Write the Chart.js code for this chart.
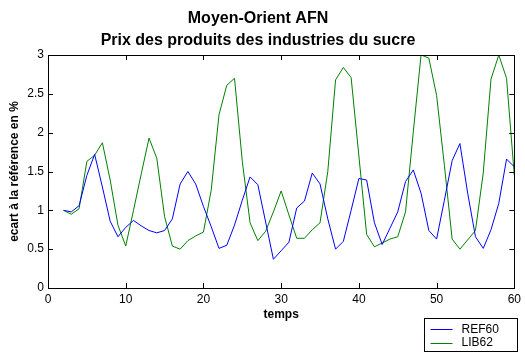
<!DOCTYPE html>
<html><head><meta charset="utf-8">
<script src="https://cdn.jsdelivr.net/npm/chart.js@4/dist/chart.umd.min.js"></script>
<style>html,body{margin:0;padding:0;background:#fff}#wrap{width:525px;height:354px}</style>
</head><body><div id="wrap"><canvas id="c" width="525" height="354"></canvas></div>
<script>
const temps = [2,3,4,5,6,7,8,9,10,11,12,13,14,15,16,17,18,19,20,21,22,23,24,25,26,27,28,29,30,31,32,33,34,35,36,37,38,39,40,41,42,43,44,45,46,47,48,49,50,51,52,53,54,55,56,57,58,59,60];
const ref60 = [1.00,0.98,1.06,1.45,1.72,1.30,0.86,0.66,0.78,0.87,0.80,0.74,0.71,0.74,0.89,1.34,1.50,1.34,1.05,0.79,0.51,0.55,0.81,1.13,1.43,1.33,0.85,0.37,0.48,0.59,1.03,1.12,1.48,1.34,0.89,0.50,0.60,1.00,1.41,1.39,0.84,0.56,0.77,0.98,1.37,1.52,1.22,0.74,0.63,1.13,1.64,1.86,1.22,0.66,0.51,0.75,1.09,1.66,1.56];
const lib62 = [1.00,0.95,1.02,1.63,1.71,1.87,1.39,0.81,0.54,1.00,1.47,1.93,1.67,0.92,0.54,0.50,0.61,0.67,0.72,1.26,2.23,2.61,2.70,1.63,0.84,0.61,0.73,0.98,1.25,0.94,0.64,0.64,0.75,0.84,1.50,2.68,2.84,2.71,1.70,0.69,0.53,0.58,0.63,0.66,0.98,2.01,3.00,2.96,2.48,1.58,0.63,0.50,0.62,0.74,1.48,2.69,3.00,2.70,1.45];
const seriesLabels = ['REF60','LIB62'];
const seriesColors = ['#0000ff','#008000'];
const xTicks = [0,10,20,30,40,50,60];
const yTicks = [0,0.5,1,1.5,2,2.5,3];
const titleLines = ['Moyen-Orient AFN','Prix des produits des industries du sucre'];
const xTitle = 'temps';
const yTitle = 'ecart à la référence en %';

const FAM = '"Liberation Sans", Arial, Helvetica, sans-serif';

const framePlugin = {
  id: 'frame',
  afterDatasetsDraw(chart) {
    const {ctx, chartArea: a, scales: {x, y}} = chart;
    ctx.save();
    ctx.strokeStyle = '#000';
    ctx.lineWidth = 1;
    ctx.strokeRect(Math.round(a.left) + 0.5, Math.round(a.top) + 0.5, Math.round(a.right - a.left), Math.round(a.bottom - a.top));
    const tl = 5;
    ctx.beginPath();
    xTicks.forEach(v => {
      const px = Math.round(x.getPixelForValue(v)) + 0.5;
      ctx.moveTo(px, a.bottom); ctx.lineTo(px, a.bottom - tl);
      ctx.moveTo(px, a.top); ctx.lineTo(px, a.top + tl);
    });
    yTicks.forEach(v => {
      const py = Math.round(y.getPixelForValue(v)) + 0.5;
      ctx.moveTo(a.left, py); ctx.lineTo(a.left + tl, py);
      ctx.moveTo(a.right, py); ctx.lineTo(a.right - tl, py);
    });
    ctx.stroke();
    ctx.restore();
  },
  afterDraw(chart) {
    const ctx = chart.ctx;
    ctx.save();
    const bx = 424.5, by = 318.5, bw = 93, bh = 33;
    ctx.fillStyle = '#fff';
    ctx.fillRect(bx, by, bw, bh);
    ctx.strokeStyle = '#000';
    ctx.lineWidth = 1;
    ctx.strokeRect(bx, by, bw, bh);
    ctx.font = '12px ' + FAM;
    ctx.textBaseline = 'middle';
    ctx.textAlign = 'left';
    chart.data.datasets.forEach((ds, i) => {
      const cy = by + 10.5 + i * 13.5;
      ctx.strokeStyle = ds.borderColor;
      ctx.beginPath();
      ctx.moveTo(bx + 6, Math.round(cy) + 0.5);
      ctx.lineTo(bx + 28, Math.round(cy) + 0.5);
      ctx.stroke();
      ctx.fillStyle = '#000';
      ctx.fillText(ds.label, bx + 37, cy + 0.5);
    });
    ctx.restore();
  }
};

new Chart(document.getElementById('c'), {
  type: 'line',
  data: {
    datasets: [
      { label: seriesLabels[0], data: temps.map((t, i) => ({x: t, y: ref60[i]})), borderColor: seriesColors[0], borderWidth: 1, pointRadius: 0, tension: 0, fill: false },
      { label: seriesLabels[1], data: temps.map((t, i) => ({x: t, y: lib62[i]})), borderColor: seriesColors[1], borderWidth: 1, pointRadius: 0, tension: 0, fill: false }
    ]
  },
  options: {
    responsive: false,
    animation: false,
    devicePixelRatio: 1,
    layout: { padding: { left: 0, right: 9, top: 0, bottom: 26 } },
    plugins: {
      legend: { display: false },
      tooltip: { enabled: false },
      title: {
        display: true, text: titleLines, color: '#000',
        font: { family: FAM, size: 16, weight: 'bold', lineHeight: 1.375 },
        padding: { top: 8, bottom: 3 }
      }
    },
    scales: {
      x: {
        type: 'linear', min: 0, max: 60,
        afterBuildTicks: s => { s.ticks = xTicks.map(v => ({value: v})); },
        afterFit: s => { s.height = 40; },
        grid: { display: false, drawTicks: false },
        border: { display: false },
        ticks: { color: '#000', font: { family: FAM, size: 12 }, padding: 4, maxRotation: 0, callback: v => String(v) },
        title: { display: true, text: xTitle, color: '#000', font: { family: FAM, size: 12, weight: 'bold' }, padding: { top: 1, bottom: 6 } }
      },
      y: {
        type: 'linear', min: 0, max: 3,
        afterBuildTicks: s => { s.ticks = yTicks.map(v => ({value: v})); },
        afterFit: s => { s.width = 48; },
        grid: { display: false, drawTicks: false },
        border: { display: false },
        ticks: { color: '#000', font: { family: FAM, size: 12 }, padding: 4, callback: v => String(v) },
        title: { display: true, text: yTitle, color: '#000', font: { family: FAM, size: 12, weight: 'bold' }, padding: { top: 7, bottom: 0 } }
      }
    }
  },
  plugins: [framePlugin]
});
</script>
</body></html>
